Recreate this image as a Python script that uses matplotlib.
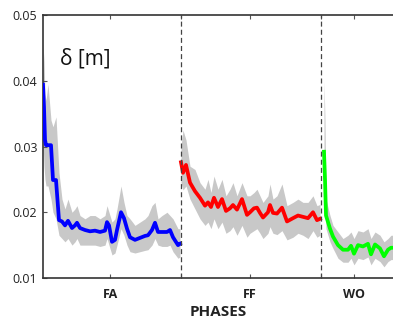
import numpy as np
import matplotlib
matplotlib.use("Agg")
import matplotlib.pyplot as plt

plt.rcParams['font.family'] = ['Open Sans', 'DejaVu Sans']

# phase FA
fa_x = [0, 1, 2, 3, 5, 8, 10, 13, 16, 19, 22, 25, 29, 32, 34, 37, 42, 47, 52, 57, 62,
        64, 66, 69, 72, 74, 78, 81, 84, 87, 92, 97, 102, 105, 109, 112, 115, 119, 124,
        127, 130, 135, 137]
fa_mean = [0.0394, 0.036, 0.031, 0.0302, 0.0302, 0.0302, 0.0249, 0.0249, 0.0188, 0.0186,
           0.0180, 0.0187, 0.0176, 0.0180, 0.0184, 0.0176, 0.0173, 0.0171, 0.0172, 0.0170,
           0.0172, 0.0185, 0.0180, 0.0155, 0.0158, 0.0173, 0.0200, 0.0191, 0.0175, 0.0162,
           0.0158, 0.0161, 0.0164, 0.0165, 0.0173, 0.0184, 0.0170, 0.0170, 0.0170, 0.0173,
           0.0162, 0.0150, 0.0152]
fa_hi = [0.0455, 0.043, 0.038, 0.037, 0.0395, 0.034, 0.033, 0.0345, 0.026, 0.022, 0.0205,
         0.022, 0.020, 0.0205, 0.021, 0.0195, 0.019, 0.0195, 0.0195, 0.019, 0.0195, 0.021,
         0.020, 0.0185, 0.019, 0.0205, 0.024, 0.0215, 0.0195, 0.019, 0.018, 0.0185, 0.019,
         0.0195, 0.021, 0.0215, 0.019, 0.0195, 0.020, 0.0195, 0.019, 0.0175, 0.0175]
fa_lo = [0.031, 0.027, 0.025, 0.024, 0.024, 0.022, 0.020, 0.019, 0.0165, 0.016, 0.0155,
         0.016, 0.015, 0.0155, 0.016, 0.015, 0.015, 0.015, 0.015, 0.0148, 0.015, 0.016,
         0.015, 0.0135, 0.0138, 0.015, 0.0175, 0.0165, 0.015, 0.014, 0.0138, 0.014, 0.0142,
         0.0143, 0.015, 0.016, 0.015, 0.0148, 0.0148, 0.015, 0.014, 0.013, 0.0132]

# phase FF
ff_x = [138, 140, 143, 147, 152, 157, 162, 165, 168, 171, 175, 179, 183, 187, 190, 194,
        199, 204, 207, 211, 214, 217, 220, 225, 227, 230, 234, 239, 244, 250, 255, 260,
        265, 270, 274, 277]
ff_mean = [0.0276, 0.0260, 0.0272, 0.0245, 0.0232, 0.0222, 0.0210, 0.0215, 0.0208, 0.0222,
           0.0208, 0.0220, 0.0202, 0.0206, 0.0211, 0.0204, 0.0220, 0.0196, 0.0200, 0.0206,
           0.0207, 0.0199, 0.0192, 0.0200, 0.0211, 0.0199, 0.0198, 0.0207, 0.0186, 0.0191,
           0.0195, 0.0193, 0.0191, 0.0200, 0.0188, 0.0190]
ff_hi = [0.030, 0.0325, 0.031, 0.027, 0.0265, 0.0245, 0.0235, 0.025, 0.023, 0.0255, 0.0235,
         0.025, 0.0225, 0.0235, 0.0245, 0.0225, 0.0245, 0.0225, 0.0225, 0.023, 0.0235,
         0.0225, 0.0215, 0.0225, 0.0243, 0.022, 0.0225, 0.0243, 0.021, 0.0215, 0.022,
         0.0215, 0.0215, 0.0225, 0.021, 0.0212]
ff_lo = [0.0245, 0.0234, 0.024, 0.022, 0.0205, 0.019, 0.018, 0.0185, 0.0175, 0.019, 0.0175,
         0.0185, 0.0168, 0.0172, 0.0178, 0.0165, 0.018, 0.0162, 0.0168, 0.0172, 0.0175,
         0.0168, 0.016, 0.0168, 0.0178, 0.0168, 0.0166, 0.0172, 0.0158, 0.0162, 0.0168,
         0.0165, 0.016, 0.0172, 0.0162, 0.0165]

# phase WO
wo_x = [281, 282, 283, 287, 290, 295, 300, 305, 308, 311, 315, 320, 325, 328, 332, 337,
        341, 345, 348, 350]
wo_mean = [0.0292, 0.0250, 0.0195, 0.0175, 0.0163, 0.0150, 0.0143, 0.0143, 0.0149, 0.0137,
           0.0150, 0.0148, 0.0152, 0.0136, 0.0151, 0.0145, 0.0133, 0.0143, 0.0146, 0.0146]
wo_hi = [0.040, 0.034, 0.022, 0.0195, 0.018, 0.017, 0.016, 0.0165, 0.017, 0.016, 0.0172,
         0.017, 0.0175, 0.016, 0.017, 0.0165, 0.0155, 0.016, 0.0165, 0.0165]
wo_lo = [0.0265, 0.022, 0.0175, 0.0155, 0.0145, 0.013, 0.0124, 0.0124, 0.013, 0.012, 0.013,
         0.0128, 0.0132, 0.012, 0.013, 0.0125, 0.0117, 0.0125, 0.0128, 0.0128]

bounds = [138, 278]
tick_pos = [67, 138, 207, 278, 311]
tick_lab = ['FA', '', 'FF', '', 'WO']

fig = plt.figure(figsize=(3.93, 3.21), dpi=100)
ax = fig.add_axes([43 / 393, 43 / 321, 350 / 393, 263 / 321])

phases = [(fa_x, fa_mean, fa_hi, fa_lo, '#0000ff'),
          (ff_x, ff_mean, ff_hi, ff_lo, '#ff0000'),
          (wo_x, wo_mean, wo_hi, wo_lo, '#00ff00')]
for x, m, hi, lo, c in phases:
    ax.fill_between(x, lo, hi, color='#c8c8c8', lw=0, zorder=1)
    ax.plot(x, m, color=c, lw=2.7, zorder=3)

for b in bounds:
    ax.axvline(b, color='#444444', lw=0.9, ls=(0, (4, 2.5)), zorder=4)

ax.set_xlim(0, 350)
ax.set_ylim(0.01, 0.05)
ax.set_yticks([0.01, 0.02, 0.03, 0.04, 0.05])
ax.set_yticklabels(['0.01', '0.02', '0.03', '0.04', '0.05'])
ax.set_xticks(tick_pos)
ax.set_xticklabels(tick_lab, fontweight='bold')
ax.tick_params(axis='both', direction='in', length=3, color='#555555', labelsize=9,
               labelcolor='#222222')
ax.tick_params(axis='x', top=True, pad=7)
ax.tick_params(axis='y', pad=4)
ax.spines['right'].set_visible(False)
for s in ['left', 'bottom', 'top']:
    ax.spines[s].set_color('#333333')
    ax.spines[s].set_linewidth(1.2)

ax.set_xlabel('PHASES', fontsize=11, fontweight='bold', color='#222222', labelpad=3)
ax.text(17, 0.0425, 'δ [m]', fontsize=15, color='#111111', va='baseline')

fig.savefig('out.png', dpi=100)
